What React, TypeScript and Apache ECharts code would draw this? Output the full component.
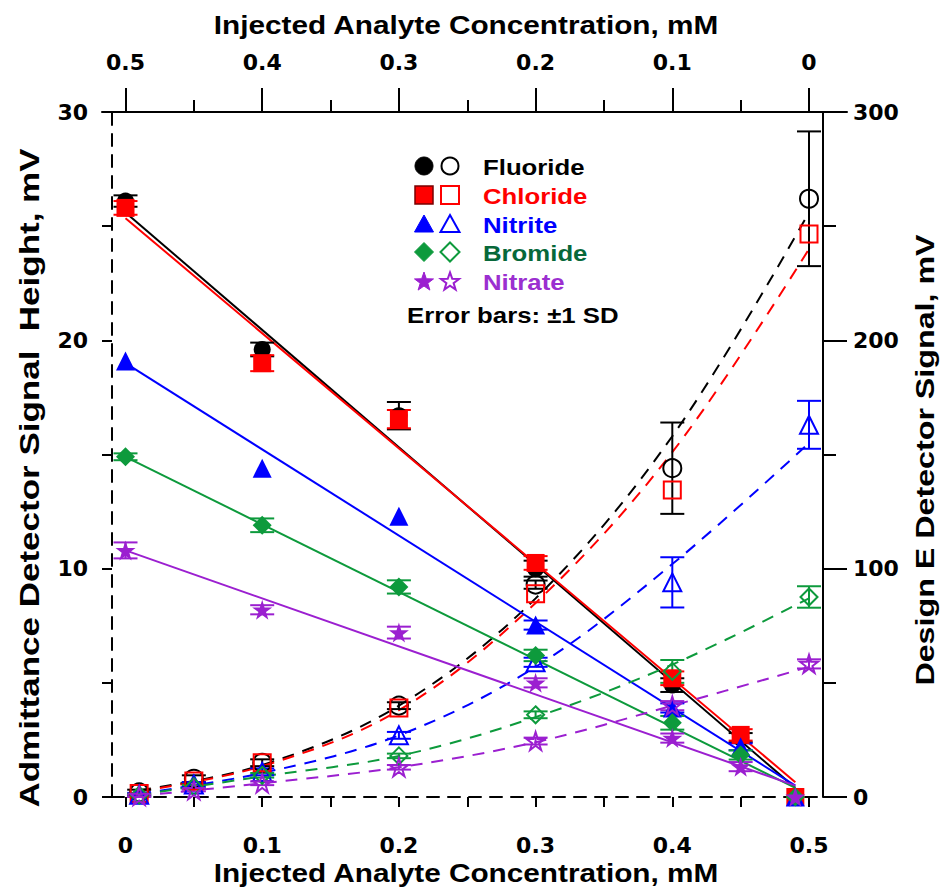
import React, { useEffect, useRef } from "react";
import * as echarts from "echarts";

// ---------- data ----------
const filledX = [0, 0.1, 0.2, 0.3, 0.4, 0.45, 0.49];
const openX = [0.01, 0.05, 0.1, 0.2, 0.3, 0.4, 0.5];
const curveX = [0.01, 0.1, 0.2, 0.3, 0.4, 0.5];
const fitX = [0, 0.49];

// Admittance detector (left axis, filled markers)
const fluorideFilled = [26.1, 19.6, 16.7, 10.0, 4.9, 2.6, 0];
const chlorideFilled = [25.8, 19.0, 16.55, 10.25, 5.2, 2.72, 0];
const nitriteFilled = [19.1, 14.4, 12.3, 7.53, 3.9, 2.2, 0];
const bromideFilled = [14.9, 11.9, 9.2, 6.2, 3.25, 1.84, 0];
const nitrateFilled = [10.8, 8.2, 7.2, 5.0, 2.58, 1.33, 0];

const fluorideFilledSD = [0.25, 0.3, 0.6, 0.35, 0.3, 0.2, 0];
const chlorideFilledSD = [0.3, 0.35, 0.4, 0.3, 0.3, 0.25, 0];
const nitriteFilledSD = [0, 0, 0, 0.2, 0.2, 0.15, 0];
const bromideFilledSD = [0.15, 0.3, 0.29, 0.25, 0.3, 0.2, 0];
const nitrateFilledSD = [0.35, 0.2, 0.26, 0.2, 0.2, 0.2, 0];

// Linear fits (left axis, solid)
const fluorideFit = [25.6, 0.4];
const chlorideFit = [25.35, 0.65];
const nitriteFit = [19.0, 0.5];
const bromideFit = [14.9, 0.4];
const nitrateFit = [10.8, 0.5];

// Design E detector (right axis, open markers)
const fluorideOpen = [2, 8, 15, 40, 93, 144, 262];
const chlorideOpen = [1.5, 7, 15, 39, 89, 134.5, 246.6];
const nitriteOpen = [1, 5.5, 11, 27, 59, 94, 163];
const bromideOpen = [0.8, 4.5, 9.5, 18, 36, 55, 87.6];
const nitrateOpen = [0.5, 3, 6, 13, 24.5, 40, 58.3];

const fluorideOpenSD = [1.2, 1.5, 1.5, 1.5, 1.8, 20, 29.5];
const chlorideOpenSD = [0, 0, 0, 0, 0, 0, 0];
const nitriteOpenSD = [0.8, 1, 1.5, 1.5, 2, 11, 10.5];
const bromideOpenSD = [0.6, 0.8, 1, 1, 1.5, 5, 4.7];
const nitrateOpenSD = [0.5, 0.5, 0.8, 1, 1.5, 2, 2];

// Fitted curves (right axis, dashed)
const fluorideCurve = [3, 14, 40, 87, 158, 256];
const chlorideCurve = [2.5, 13.5, 38, 85, 151, 240];
const nitriteCurve = [1.5, 10.5, 27, 57, 102, 155];
const bromideCurve = [1, 9, 18, 35, 58, 87];
const nitrateCurve = [0.5, 6, 13, 24, 40, 57];

const speciesNames = ["Fluoride", "Chloride", "Nitrite", "Bromide", "Nitrate"];

// ---------- styling ----------
const FONT = "'Liberation Sans', Arial, sans-serif";
const TICK_FONT = "'DejaVu Sans', 'Liberation Sans', sans-serif";
const STAR =
  "path://M50,0 L61.2,34.5 L97.6,34.5 L68.2,55.9 L79.4,90.5 L50,69.1 L20.6,90.5 L31.8,55.9 L2.4,34.5 L38.8,34.5 Z";

const species = [
  { name: speciesNames[0], color: "#000000", text: "#000000", symbol: "circle", fs: 17, os: 18,
    filled: fluorideFilled, fsd: fluorideFilledSD, fit: fluorideFit, open: fluorideOpen, osd: fluorideOpenSD, curve: fluorideCurve },
  { name: speciesNames[1], color: "#ff0000", text: "#ff0000", symbol: "rect", fs: 18, os: 17,
    filled: chlorideFilled, fsd: chlorideFilledSD, fit: chlorideFit, open: chlorideOpen, osd: chlorideOpenSD, curve: chlorideCurve },
  { name: speciesNames[2], color: "#0000ff", text: "#0000ff", symbol: "triangle", fs: 19, os: 18,
    filled: nitriteFilled, fsd: nitriteFilledSD, fit: nitriteFit, open: nitriteOpen, osd: nitriteOpenSD, curve: nitriteCurve },
  { name: speciesNames[3], color: "#0d9a3c", text: "#07683a", symbol: "diamond", fs: 19, os: 17,
    filled: bromideFilled, fsd: bromideFilledSD, fit: bromideFit, open: bromideOpen, osd: bromideOpenSD, curve: bromideCurve },
  { name: speciesNames[4], color: "#9b1fd0", text: "#9b2fd0", symbol: STAR, fs: 20, os: 18,
    filled: nitrateFilled, fsd: nitrateFilledSD, fit: nitrateFit, open: nitrateOpen, osd: nitrateOpenSD, curve: nitrateCurve },
];

function errorSeries(color: string, xs: number[], vals: number[], sds: number[], yAxisIndex: number) {
  const data = xs
    .map((x, i) => [x, vals[i] - sds[i], vals[i] + sds[i], sds[i]])
    .filter((d) => d[3] > 0);
  return {
    type: "custom",
    xAxisIndex: 0,
    yAxisIndex,
    data,
    encode: { x: 0, y: [1, 2] },
    z: 3,
    silent: true,
    renderItem: (_params: any, api: any) => {
      const x = api.value(0);
      const a = api.coord([x, api.value(1)]);
      const b = api.coord([x, api.value(2)]);
      const w = 12;
      const style = { stroke: color, lineWidth: 2, fill: "none" };
      return {
        type: "group",
        children: [
          { type: "line", shape: { x1: a[0], y1: a[1], x2: b[0], y2: b[1] }, style },
          { type: "line", shape: { x1: a[0] - w, y1: a[1], x2: a[0] + w, y2: a[1] }, style },
          { type: "line", shape: { x1: b[0] - w, y1: b[1], x2: b[0] + w, y2: b[1] }, style },
        ],
      };
    },
  };
}

function starPoints(cx: number, cy: number, R: number) {
  const r = R * 0.4;
  const pts: number[][] = [];
  for (let i = 0; i < 10; i++) {
    const ang = -Math.PI / 2 + (i * Math.PI) / 5;
    const rr = i % 2 === 0 ? R : r;
    pts.push([cx + rr * Math.cos(ang), cy + rr * Math.sin(ang) + R * 0.1]);
  }
  return pts;
}

function legendSymbol(kind: number, cx: number, cy: number, color: string, filled: boolean) {
  const style = filled
    ? { fill: color, stroke: kind === 1 ? "#7a0000" : color, lineWidth: kind === 1 ? 1.5 : 1 }
    : { fill: "none", stroke: color, lineWidth: 2 };
  const s = 9;
  switch (kind) {
    case 0:
      return { type: "circle", shape: { cx, cy, r: filled ? 9 : 8.5 }, style };
    case 1:
      return { type: "rect", shape: { x: cx - s, y: cy - s, width: 2 * s, height: 2 * s }, style };
    case 2:
      return { type: "polygon", shape: { points: [[cx, cy - 9], [cx + 9.5, cy + 8], [cx - 9.5, cy + 8]] }, style };
    case 3:
      return { type: "polygon", shape: { points: [[cx, cy - 9.5], [cx + 9.5, cy], [cx, cy + 9.5], [cx - 9.5, cy]] }, style };
    default:
      return { type: "polygon", shape: { points: starPoints(cx, cy, filled ? 10 : 9.5) }, style };
  }
}

export default function App() {
  const ref = useRef<HTMLDivElement>(null);

  useEffect(() => {
    const chart = echarts.init(ref.current!, null, { renderer: "svg" });

    const series: any[] = [];
    species.forEach((sp) => {
      series.push({
        type: "line",
        xAxisIndex: 0,
        yAxisIndex: 0,
        data: fitX.map((x, i) => [x, sp.fit[i]]),
        symbol: "none",
        lineStyle: { color: sp.color, width: 2 },
        z: 2,
        silent: true,
      });
      series.push({
        type: "line",
        xAxisIndex: 0,
        yAxisIndex: 1,
        data: curveX.map((x, i) => [x, sp.curve[i]]),
        symbol: "none",
        smooth: 0.35,
        lineStyle: { color: sp.color, width: 2, type: [12, 9] },
        z: 2,
        silent: true,
      });
    });
    species.forEach((sp) => {
      series.push(errorSeries(sp.color, filledX, sp.filled, sp.fsd, 0));
      series.push(errorSeries(sp.color, openX, sp.open, sp.osd, 1));
    });
    species.forEach((sp) => {
      series.push({
        type: "scatter",
        name: sp.name,
        xAxisIndex: 0,
        yAxisIndex: 0,
        data: filledX.map((x, i) => [x, sp.filled[i]]),
        symbol: sp.symbol,
        symbolSize: sp.fs,
        itemStyle: { color: sp.color, opacity: 1 },
        z: 4,
      });
      series.push({
        type: "scatter",
        name: sp.name + " (Design E)",
        xAxisIndex: 0,
        yAxisIndex: 1,
        data: openX.map((x, i) => [x, sp.open[i]]),
        symbol: sp.symbol,
        symbolSize: sp.os,
        itemStyle: { color: "rgba(0,0,0,0)", borderColor: sp.color, borderWidth: 2, opacity: 1 },
        z: 4,
      });
    });

    const labelStyle = { color: "#000", fontFamily: TICK_FONT, fontWeight: "bold" as const, fontSize: 22 };
    const blackLine = { color: "#000", width: 2 };

    const graphic: any[] = [];
    const rowY = [166, 195, 224, 252, 281];
    species.forEach((sp, i) => {
      graphic.push(legendSymbol(i, 424, rowY[i], sp.color, true));
      graphic.push(legendSymbol(i, 450, rowY[i], sp.color, false));
      graphic.push({
        type: "text",
        x: 483,
        y: rowY[i] + 1,
        scaleX: 1.12,
        style: { text: sp.name, fill: sp.text, font: `bold 23px ${FONT}`, textAlign: "left", textVerticalAlign: "middle" },
      });
    });
    graphic.push({
      type: "text",
      x: 407,
      y: 315,
      scaleX: 1.12,
      style: { text: "Error bars: \u00b11 SD", fill: "#000", font: `bold 23px ${FONT}`, textAlign: "left", textVerticalAlign: "middle" },
    });
    const titleFont = `bold 25px ${FONT}`;
    graphic.push({
      type: "text", x: 466, y: 25, scaleX: 1.19,
      style: { text: "Injected Analyte Concentration, mM", fill: "#000", font: titleFont, textAlign: "center", textVerticalAlign: "middle" },
    });
    graphic.push({
      type: "text", x: 466, y: 873, scaleX: 1.19,
      style: { text: "Injected Analyte Concentration, mM", fill: "#000", font: titleFont, textAlign: "center", textVerticalAlign: "middle" },
    });
    graphic.push({
      type: "text", x: 29, y: 478, rotation: Math.PI / 2, scaleX: 1.25,
      style: { text: "Admittance Detector Signal  Height, mV", fill: "#000", font: `bold 28px ${FONT}`, textAlign: "center", textVerticalAlign: "middle" },
    });
    graphic.push({
      type: "text", x: 925, y: 460, rotation: Math.PI / 2, scaleX: 1.24,
      style: { text: "Design E Detector Signal, mV", fill: "#000", font: `bold 26px ${FONT}`, textAlign: "center", textVerticalAlign: "middle" },
    });

    const noZero = { onZero: false };

    const option: any = {
      animation: false,
      backgroundColor: "#ffffff",
      grid: [
        { left: 125.5, top: 112, width: 683.5, height: 685, containLabel: false },
        { left: 112, top: 112, width: 711, height: 685, containLabel: false },
        { left: 102, top: 112, width: 745, height: 685, containLabel: false },
      ],
      xAxis: [
        {
          gridIndex: 0, type: "value", position: "bottom", min: 0, max: 0.5, interval: 0.1,
          axisLine: { show: false, ...noZero },
          axisTick: { show: true, length: 10, inside: false, lineStyle: blackLine },
          minorTick: { show: true, splitNumber: 2, length: 10, lineStyle: blackLine },
          axisLabel: { ...labelStyle, margin: 37, formatter: (v: number) => String(v) },
          splitLine: { show: false },
          minorSplitLine: { show: false },
        },
        {
          gridIndex: 0, type: "value", position: "top", inverse: true, min: 0, max: 0.5, interval: 0.1,
          axisLine: { show: false, ...noZero },
          axisTick: { show: true, length: 24, inside: false, lineStyle: blackLine },
          minorTick: { show: true, splitNumber: 2, length: 12, lineStyle: blackLine },
          axisLabel: { ...labelStyle, margin: 39, formatter: (v: number) => String(v) },
          splitLine: { show: false },
        },
        {
          gridIndex: 1, type: "value", position: "bottom", min: 0, max: 1,
          axisLine: { show: true, ...noZero, lineStyle: { color: "#000", width: 2, type: [12, 9] } },
          axisTick: { show: false }, axisLabel: { show: false }, splitLine: { show: false },
        },
        {
          gridIndex: 2, type: "value", position: "top", min: 0, max: 1,
          axisLine: { show: true, ...noZero, lineStyle: blackLine },
          axisTick: { show: false }, axisLabel: { show: false }, splitLine: { show: false },
        },
      ],
      yAxis: [
        { gridIndex: 0, type: "value", position: "left", min: 0, max: 30, show: false, axisLine: noZero, splitLine: { show: false } },
        { gridIndex: 0, type: "value", position: "right", min: 0, max: 300, show: false, axisLine: noZero, splitLine: { show: false } },
        {
          gridIndex: 1, type: "value", position: "left", min: 0, max: 30, interval: 10,
          axisLine: { show: true, ...noZero, lineStyle: { color: "#000", width: 2, type: [12, 9] } },
          axisTick: { show: true, length: 10, lineStyle: blackLine },
          minorTick: { show: true, splitNumber: 2, length: 10, lineStyle: blackLine },
          axisLabel: { ...labelStyle, margin: 24 },
          splitLine: { show: false },
        },
        {
          gridIndex: 1, type: "value", position: "right", min: 0, max: 300, interval: 100,
          axisLine: { show: true, ...noZero, lineStyle: blackLine },
          axisTick: { show: true, length: 24, lineStyle: blackLine },
          minorTick: { show: true, splitNumber: 2, length: 13, lineStyle: blackLine },
          axisLabel: { ...labelStyle, margin: 30 },
          splitLine: { show: false },
        },
        { gridIndex: 2, type: "value", min: 0, max: 1, show: false, axisLine: noZero, splitLine: { show: false } },
      ],
      series,
      graphic,
    };

    chart.setOption(option);
    return () => chart.dispose();
  }, []);

  return (
    <div
      ref={ref}
      style={{ position: "absolute", left: 0, top: 0, width: 945, height: 892, background: "#fff" }}
    />
  );
}
